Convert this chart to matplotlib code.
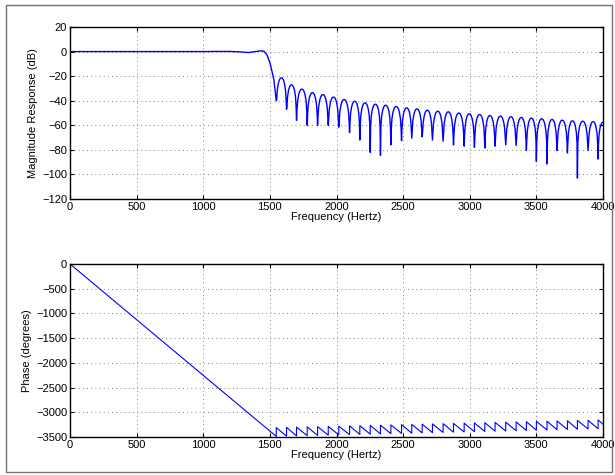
import numpy as np
import matplotlib.pyplot as plt
from matplotlib.patches import Rectangle

plt.rcParams['font.family'] = ['Liberation Sans', 'DejaVu Sans']
plt.rcParams['font.size'] = 8

# passband part of the magnitude response (Hz, dB)
pass_hz = [0, 200, 400, 600, 800, 1000, 1100, 1200, 1280, 1340, 1390, 1430, 1455, 1480, 1505, 1530]
pass_db = [0, 0, 0, 0, 0, 0, 0.1, 0.1, -0.3, -0.8, 0, 0.6, 0.3, -3, -11, -23]

# stopband zeros and the sidelobe that follows each one
null_hz = [1548, 1625, 1700, 1780, 1858, 1938, 2017, 2098, 2175, 2253, 2330, 2408,
           2488, 2565, 2643, 2720, 2800, 2878, 2958, 3035, 3113, 3190, 3270, 3348,
           3425, 3500, 3580, 3655, 3733, 3808, 3888, 3963]
null_db = [-40, -47, -56, -60, -60, -60, -61.5, -66, -72, -82, -84.5, -76,
           -72.5, -70.5, -69.5, -72, -73, -76, -77, -78, -78.5, -77, -76, -76.5,
           -80.5, -89.5, -91.5, -80.5, -82.5, -103, -80.5, -87.5]
peak_db = [-21.3, -27, -30.5, -33.4, -35, -37, -39, -40.4, -41.7, -42.8, -43.6, -44.7,
           -45.8, -46.6, -47.7, -48.5, -49, -50, -50.6, -51.2, -52, -52.5, -53, -53.6,
           -54.1, -54.7, -55.2, -55.8, -56.3, -56.6, -57, -57.5]

# outline of one sidelobe: position across the lobe and drop below its peak (dB)
lobe_frac = [0.04, 0.1, 0.2, 0.3, 0.4, 0.5, 0.6, 0.7, 0.8, 0.9, 0.96]
lobe_drop = [18, 10, 4.6, 1.8, 0.4, 0, 0.4, 1.8, 4.6, 10, 18]

# phase just before and just after each zero (degrees)
phase_low = [-3488, -3483, -3478, -3473, -3468, -3463, -3458, -3453, -3448, -3443, -3438, -3433,
             -3428, -3423, -3418, -3413, -3408, -3403, -3398, -3393, -3388, -3383, -3378, -3373,
             -3368, -3363, -3358, -3353, -3348, -3343, -3338, -3333]
phase_high = [-3310, -3305, -3300, -3295, -3290, -3285, -3280, -3275, -3270, -3265, -3260, -3255,
              -3250, -3245, -3240, -3235, -3230, -3225, -3220, -3215, -3210, -3205, -3200, -3195,
              -3190, -3185, -3180, -3175, -3170, -3165, -3160, -3155]
phase_end = -3240
f_max = 4000


def magnitude_curve():
    f = list(pass_hz)
    m = list(pass_db)
    for k in range(len(null_hz)):
        f0 = null_hz[k]
        if k + 1 < len(null_hz):
            width = null_hz[k + 1] - f0
        else:
            width = 2 * (f_max - f0)  # last lobe is cut at the band edge
        f.append(f0)
        m.append(null_db[k])
        for fr, d in zip(lobe_frac, lobe_drop):
            if f0 + fr * width > f_max:
                break
            f.append(f0 + fr * width)
            m.append(peak_db[k] - d)
    return np.array(f), np.array(m)


def phase_curve():
    f = [0]
    p = [0]
    for k in range(len(null_hz)):
        f += [null_hz[k], null_hz[k]]
        p += [phase_low[k], phase_high[k]]
    f.append(f_max)
    p.append(phase_end)
    return np.array(f), np.array(p)


def style_axes(ax):
    ax.set_xlim(0, f_max)
    ax.set_xticks(range(0, 4001, 500))
    ax.tick_params(direction='in', top=True, right=True, length=3, width=0.8, pad=2)
    ax.grid(True, color='0.35', linestyle=(0, (1, 4)), linewidth=0.6)
    for s in ax.spines.values():
        s.set_linewidth(1.0)
    ax.set_xlabel('Frequency (Hertz)', labelpad=0)


fig = plt.figure(figsize=(6.15, 4.75), dpi=100)
fig.patches.append(Rectangle((6 / 615, 1 - 472 / 475), 606 / 615, 467 / 475,
                             transform=fig.transFigure, fill=False,
                             edgecolor='0.45', linewidth=1.0))

ax1 = fig.add_axes([70 / 615, 1 - 199 / 475, 533 / 615, 172 / 475])
fm, mag = magnitude_curve()
ax1.plot(fm, mag, color=(0, 0, 1), linewidth=1.0)
ax1.set_ylim(-120, 20)
ax1.set_yticks(range(-120, 21, 20))
style_axes(ax1)
ax1.set_ylabel('Magnitude Response (dB)', labelpad=3)

ax2 = fig.add_axes([70 / 615, 1 - 437 / 475, 533 / 615, 173 / 475])
fp, ph = phase_curve()
ax2.plot(fp, ph, color=(0, 0, 1), linewidth=0.8)
ax2.set_ylim(-3500, 0)
ax2.set_yticks(range(-3500, 1, 500))
style_axes(ax2)
ax2.set_ylabel('Phase (degrees)', labelpad=3)

fig.savefig('out.png', dpi=100)
